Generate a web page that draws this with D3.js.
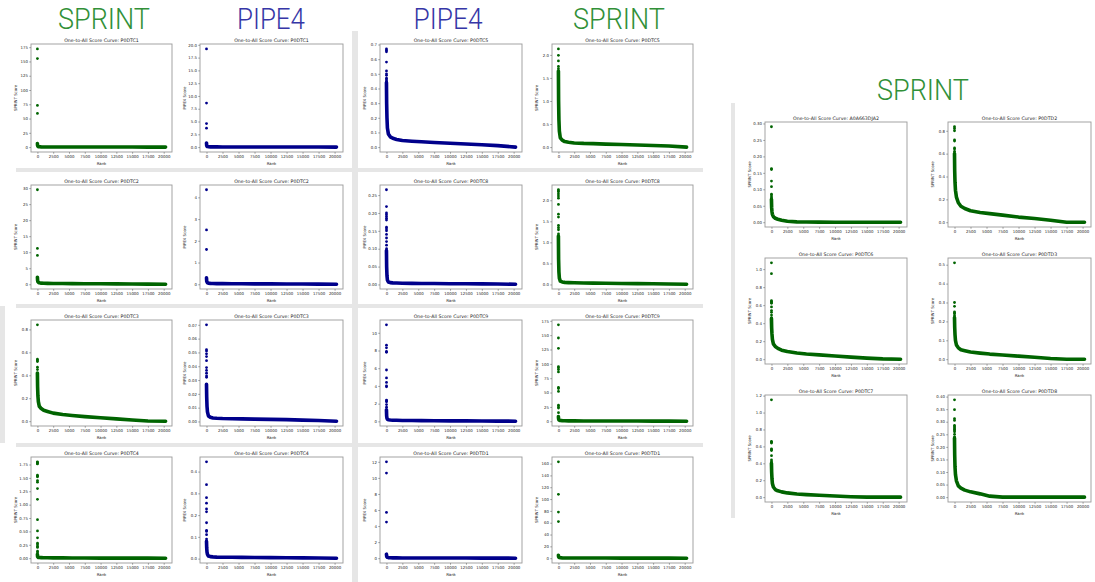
<!DOCTYPE html>
<html>
<head>
<meta charset="utf-8">
<title>One-to-All Score Curves</title>
<script src="https://cdn.jsdelivr.net/npm/d3@7"></script>
<style>
  body { margin: 0; background: #fff; }
  text { font-family: "DejaVu Sans", sans-serif; fill: #262626; }
  .head { font-family: Roboto, "Open Sans", sans-serif; font-weight: 300; opacity: 0.99; }
  .frame { fill: none; stroke: #9a9a9a; stroke-width: 0.9px; }
  .axis path { display: none; }
  .axis line { stroke: #555; stroke-width: 0.5px; }
</style>
</head>
<body>
<script>
// plots in order: 4 rows x 4 cols on the left, then 3 rows x 2 cols on the right
var proteins = ["P0DTC1", "P0DTC1", "P0DTC5", "P0DTC5",
                "P0DTC2", "P0DTC2", "P0DTC8", "P0DTC8",
                "P0DTC3", "P0DTC3", "P0DTC9", "P0DTC9",
                "P0DTC4", "P0DTC4", "P0DTD1", "P0DTD1",
                "A0A663DJA2", "P0DTD2", "P0DTC6", "P0DTD3", "P0DTC7", "P0DTD8"];

var methods = ["SPRINT", "PIPE4", "PIPE4", "SPRINT",
               "SPRINT", "PIPE4", "PIPE4", "SPRINT",
               "SPRINT", "PIPE4", "PIPE4", "SPRINT",
               "SPRINT", "PIPE4", "PIPE4", "SPRINT",
               "SPRINT", "SPRINT", "SPRINT", "SPRINT", "SPRINT", "SPRINT"];

// the few top-ranked pairs that stand apart near rank 0
var topScores = [
  [172, 155, 73, 59],
  [19.2, 8.6, 4.6, 3.7],
  [0.67, 0.66, 0.65, 0.58, 0.52, 0.50, 0.49, 0.47, 0.46, 0.45],
  [2.13, 1.99, 1.87, 1.75, 1.70],
  [29.5, 11.2, 9.0],
  [4.35, 2.5, 1.6],
  [0.265, 0.218, 0.20, 0.195, 0.19, 0.185, 0.18, 0.16, 0.155, 0.15, 0.14, 0.13, 0.12, 0.11, 0.10],
  [2.25, 2.22, 2.2, 2.15, 2.1, 2.05, 1.9, 1.67, 1.6, 1.4, 1.35, 1.3, 1.2],
  [0.84, 0.54, 0.53, 0.52, 0.47, 0.45],
  [0.070, 0.052, 0.051, 0.049, 0.047, 0.044, 0.039, 0.037, 0.035, 0.033, 0.032],
  [10.9, 8.6, 8.3, 7.9, 7.8, 5.8, 4.9, 4.4, 4.0, 3.9, 2.4, 2.3, 2.2, 1.9, 1.6],
  [168, 145, 127, 95, 93, 90, 86, 59, 57, 52, 28, 25, 23, 15],
  [1.80, 1.79, 1.77, 1.76, 1.55, 1.53, 1.52, 1.45, 1.42, 1.30, 1.10, 0.72, 0.51, 0.38, 0.28, 0.25, 0.22, 0.20, 0.13, 0.10],
  [0.445, 0.34, 0.28, 0.255, 0.228, 0.215, 0.165, 0.13, 0.125, 0.11, 0.09],
  [12.0, 10.6, 5.7, 4.5],
  [163, 108, 78, 62],
  [0.29, 0.163, 0.16, 0.125, 0.108, 0.085, 0.08, 0.075],
  [0.835, 0.82, 0.80, 0.72, 0.71, 0.65, 0.64, 0.62],
  [1.07, 0.95, 0.65, 0.64, 0.63, 0.62, 0.58, 0.54, 0.52, 0.49, 0.46],
  [0.51, 0.30, 0.28, 0.25, 0.245, 0.24, 0.23],
  [1.15, 0.66, 0.65, 0.64, 0.57, 0.56, 0.55, 0.49, 0.44, 0.42],
  [0.387, 0.348, 0.312, 0.305, 0.285, 0.28, 0.275, 0.27, 0.265, 0.26, 0.25, 0.24]
];

// the dense body of the score curve, read at these ranks
var curveRanks = [0, 30, 80, 150, 300, 600, 1000, 1600, 2500, 4000, 5500, 7500, 10000, 12500, 15000, 17500, 20300];

var curveScores = [
  [6, 2.5, 1.2, 0.8, 0.5, 0.35, 0.25, 0.2, 0.15, 0.1, 0.08, 0.06, 0.05, 0.04, 0.03, 0.02, 0.0],
  [0.8, 0.3, 0.15, 0.1, 0.07, 0.05, 0.04, 0.035, 0.03, 0.025, 0.02, 0.018, 0.015, 0.012, 0.01, 0.005, 0],
  [0.44, 0.3, 0.2, 0.13, 0.09, 0.07, 0.06, 0.052, 0.045, 0.04, 0.036, 0.031, 0.026, 0.021, 0.016, 0.01, 0.0],
  [1.65, 1.0, 0.6, 0.35, 0.2, 0.15, 0.12, 0.105, 0.09, 0.08, 0.075, 0.065, 0.055, 0.045, 0.035, 0.025, 0.0],
  [2.2, 1.2, 0.8, 0.6, 0.45, 0.35, 0.3, 0.27, 0.25, 0.22, 0.2, 0.18, 0.15, 0.12, 0.09, 0.05, 0],
  [0.3, 0.15, 0.1, 0.07, 0.05, 0.04, 0.035, 0.03, 0.028, 0.025, 0.022, 0.02, 0.018, 0.015, 0.012, 0.008, 0],
  [0.095, 0.05, 0.025, 0.012, 0.007, 0.005, 0.0045, 0.004, 0.0035, 0.003, 0.0028, 0.0025, 0.002, 0.0018, 0.0015, 0.0012, 0.0005],
  [1.15, 0.6, 0.3, 0.15, 0.08, 0.06, 0.05, 0.045, 0.04, 0.035, 0.032, 0.028, 0.025, 0.02, 0.017, 0.013, 0.005],
  [0.42, 0.3, 0.22, 0.17, 0.13, 0.11, 0.095, 0.085, 0.07, 0.058, 0.05, 0.04, 0.03, 0.02, 0.01, 0.002, 0],
  [0.027, 0.018, 0.011, 0.007, 0.004, 0.003, 0.0025, 0.0023, 0.0021, 0.002, 0.0019, 0.0017, 0.0015, 0.0013, 0.001, 0.0007, 0.0002],
  [1.3, 0.6, 0.35, 0.25, 0.18, 0.15, 0.13, 0.12, 0.1, 0.09, 0.08, 0.07, 0.06, 0.05, 0.04, 0.03, 0.02],
  [8, 4, 2.5, 1.8, 1.3, 1.0, 0.8, 0.7, 0.6, 0.5, 0.45, 0.4, 0.35, 0.3, 0.25, 0.2, 0.1],
  [0.07, 0.03, 0.02, 0.015, 0.012, 0.01, 0.008, 0.007, 0.006, 0.005, 0.004, 0.003, 0.002, 0.0015, 0.001, 0.0005, 0],
  [0.08, 0.05, 0.03, 0.02, 0.012, 0.009, 0.008, 0.007, 0.0065, 0.006, 0.0055, 0.005, 0.0045, 0.004, 0.0035, 0.003, 0.002],
  [0.5, 0.25, 0.15, 0.1, 0.07, 0.05, 0.04, 0.035, 0.03, 0.025, 0.022, 0.02, 0.017, 0.014, 0.01, 0.006, 0.0],
  [5, 2.5, 1.5, 1.0, 0.7, 0.5, 0.4, 0.35, 0.3, 0.25, 0.22, 0.2, 0.17, 0.14, 0.1, 0.06, 0.0],
  [0.07, 0.045, 0.032, 0.024, 0.017, 0.012, 0.009, 0.006, 0.003, 0.001, 0.0005, 0.0002, 0, 0, 0, 0, 0],
  [0.6, 0.45, 0.35, 0.28, 0.22, 0.17, 0.14, 0.12, 0.1, 0.085, 0.075, 0.062, 0.045, 0.032, 0.018, 0, 0],
  [0.45, 0.35, 0.28, 0.22, 0.17, 0.14, 0.12, 0.1, 0.085, 0.068, 0.058, 0.048, 0.035, 0.023, 0.012, 0.003, 0],
  [0.22, 0.17, 0.13, 0.1, 0.075, 0.06, 0.05, 0.045, 0.038, 0.032, 0.027, 0.022, 0.016, 0.01, 0.004, 0, 0],
  [0.4, 0.3, 0.22, 0.16, 0.12, 0.09, 0.075, 0.062, 0.05, 0.038, 0.03, 0.022, 0.013, 0.005, 0, 0, 0],
  [0.235, 0.17, 0.12, 0.09, 0.065, 0.045, 0.036, 0.028, 0.021, 0.013, 0.004, 0, 0, 0, 0, 0, 0]
];

var xTickLabels = ["0", "2500", "5000", "7500", "10000", "12500", "15000", "17500", "20000"];

var yTickLabels = [
  ["0", "25", "50", "75", "100", "125", "150", "175"],
  ["0.0", "2.5", "5.0", "7.5", "10.0", "12.5", "15.0", "17.5", "20.0"],
  ["0.0", "0.1", "0.2", "0.3", "0.4", "0.5", "0.6", "0.7"],
  ["0.0", "0.5", "1.0", "1.5", "2.0"],
  ["0", "5", "10", "15", "20", "25", "30"],
  ["0", "1", "2", "3", "4"],
  ["0.00", "0.05", "0.10", "0.15", "0.20", "0.25"],
  ["0.0", "0.5", "1.0", "1.5", "2.0"],
  ["0.0", "0.2", "0.4", "0.6", "0.8"],
  ["0.00", "0.01", "0.02", "0.03", "0.04", "0.05", "0.06", "0.07"],
  ["0", "2", "4", "6", "8", "10"],
  ["0", "25", "50", "75", "100", "125", "150", "175"],
  ["0.00", "0.25", "0.50", "0.75", "1.00", "1.25", "1.50", "1.75"],
  ["0.0", "0.1", "0.2", "0.3", "0.4"],
  ["0", "2", "4", "6", "8", "10", "12"],
  ["0", "20", "40", "60", "80", "100", "120", "140", "160"],
  ["0.00", "0.05", "0.10", "0.15", "0.20", "0.25", "0.30"],
  ["0.0", "0.2", "0.4", "0.6", "0.8"],
  ["0.0", "0.2", "0.4", "0.6", "0.8", "1.0"],
  ["0.0", "0.1", "0.2", "0.3", "0.4", "0.5"],
  ["0.0", "0.2", "0.4", "0.6", "0.8", "1.0", "1.2"],
  ["0.00", "0.05", "0.10", "0.15", "0.20", "0.25", "0.30", "0.35", "0.40"]
];

var headers = ["SPRINT", "PIPE4", "PIPE4", "SPRINT", "SPRINT"];

var W = 1095, H = 582;
var dotColor = {SPRINT: "#006400", PIPE4: "#00008b"};
var headColor = {SPRINT: "#2f8f36", PIPE4: "#3434a6"};

var svg = d3.select("body").append("svg")
    .attr("width", W)
    .attr("height", H);

// grey separator bands between the pasted figures
var bands = [
  [16, 168, 339, 4], [16, 304, 339, 4], [16, 443, 339, 4],
  [358, 168, 345, 4], [358, 304, 345, 4], [358, 443, 345, 4],
  [352, 31, 6, 551], [731, 103, 4, 415], [0, 306, 5, 137]
];
svg.selectAll("rect.band")
    .data(bands)
    .enter().append("rect")
    .attr("class", "band")
    .attr("x", function (d) { return d[0]; })
    .attr("y", function (d) { return d[1]; })
    .attr("width", function (d) { return d[2]; })
    .attr("height", function (d) { return d[3]; })
    .attr("fill", "#e6e6e6");

// column headers: [centre x, baseline y, width]
var headPos = [[104, 29, 92], [271, 29, 68], [448, 29, 69], [619, 29, 92], [923, 100, 92]];
svg.selectAll("text.head")
    .data(headers)
    .enter().append("text")
    .attr("class", "head")
    .attr("x", function (d, i) { return headPos[i][0] - headPos[i][2] / 2; })
    .attr("y", function (d, i) { return headPos[i][1]; })
    .attr("textLength", function (d, i) { return headPos[i][2]; })
    .attr("lengthAdjust", "spacingAndGlyphs")
    .style("font-size", "30px")
    .style("fill", function (d) { return headColor[d]; })
    .text(function (d) { return d; });

// frame boxes for each sub plot
var colsLeft = [[31, 172], [200, 343], [380, 522], [552, 693]];
var rowsLeft = [[44, 152], [185, 289], [320, 426], [457, 563]];
var colsRight = [[765, 907], [948, 1091]];
var rowsRight = [[122, 227], [258, 364], [395, 502]];

function frameOf(i) {
    if (i < 16) return {x: colsLeft[i % 4], y: rowsLeft[Math.floor(i / 4)]};
    var j = i - 16;
    return {x: colsRight[j % 2], y: rowsRight[Math.floor(j / 2)]};
}

var line = d3.line();

proteins.forEach(function (prot, i) {
    var f = frameOf(i);
    var method = methods[i];
    var col = dotColor[method];

    var maxRank = curveRanks[curveRanks.length - 1];
    var xpad = 0.05 * maxRank;
    var x = d3.scaleLinear().domain([-xpad, maxRank + xpad]).range(f.x);

    var ymax = d3.max(topScores[i]);
    var ymin = d3.min(curveScores[i]);
    var ypad = 0.05 * (ymax - ymin);
    var y = d3.scaleLinear().domain([ymin - ypad, ymax + ypad]).range([f.y[1], f.y[0]]);

    var g = svg.append("g");

    // clip so the thick curve stays inside the frame
    var cid = "clip" + i;
    g.append("clipPath").attr("id", cid)
        .append("rect")
        .attr("x", f.x[0]).attr("y", f.y[0])
        .attr("width", f.x[1] - f.x[0]).attr("height", f.y[1] - f.y[0]);

    var pts = curveRanks.map(function (r, k) { return [x(r), y(curveScores[i][k])]; });
    g.append("path")
        .attr("clip-path", "url(#" + cid + ")")
        .attr("d", line(pts))
        .attr("fill", "none")
        .attr("stroke", col)
        .attr("stroke-width", 3.6)
        .attr("stroke-linejoin", "round")
        .attr("stroke-linecap", "round");

    g.selectAll("circle")
        .data(topScores[i])
        .enter().append("circle")
        .attr("cx", function (d, k) { return x(k); })
        .attr("cy", function (d) { return y(d); })
        .attr("r", 1.4)
        .attr("fill", col);

    g.append("rect")
        .attr("class", "frame")
        .attr("x", f.x[0]).attr("y", f.y[0])
        .attr("width", f.x[1] - f.x[0]).attr("height", f.y[1] - f.y[0]);

    var xAxis = g.append("g")
        .attr("class", "axis")
        .attr("transform", "translate(0," + f.y[1] + ")")
        .call(d3.axisBottom(x)
            .tickValues(xTickLabels.map(Number))
            .tickFormat(function (d, k) { return xTickLabels[k]; })
            .tickSize(1.8).tickPadding(1));
    xAxis.selectAll("text").style("font-size", "3.9px");

    var yAxis = g.append("g")
        .attr("class", "axis")
        .attr("transform", "translate(" + f.x[0] + ",0)")
        .call(d3.axisLeft(y)
            .tickValues(yTickLabels[i].map(Number))
            .tickFormat(function (d, k) { return yTickLabels[i][k]; })
            .tickSize(1.8).tickPadding(1.2));
    yAxis.selectAll("text").style("font-size", "3.9px");

    g.append("text")
        .attr("x", (f.x[0] + f.x[1]) / 2)
        .attr("y", f.y[0] - 2.2)
        .attr("text-anchor", "middle")
        .style("font-size", "4.7px")
        .text("One-to-All Score Curve: " + prot);

    g.append("text")
        .attr("x", (f.x[0] + f.x[1]) / 2)
        .attr("y", f.y[1] + 12.5)
        .attr("text-anchor", "middle")
        .style("font-size", "3.9px")
        .text("Rank");

    g.append("text")
        .attr("transform", "translate(" + (f.x[0] - 14.5) + "," + ((f.y[0] + f.y[1]) / 2) + ") rotate(-90)")
        .attr("text-anchor", "middle")
        .style("font-size", "3.9px")
        .text(method + " Score");
});
</script>
</body>
</html>
